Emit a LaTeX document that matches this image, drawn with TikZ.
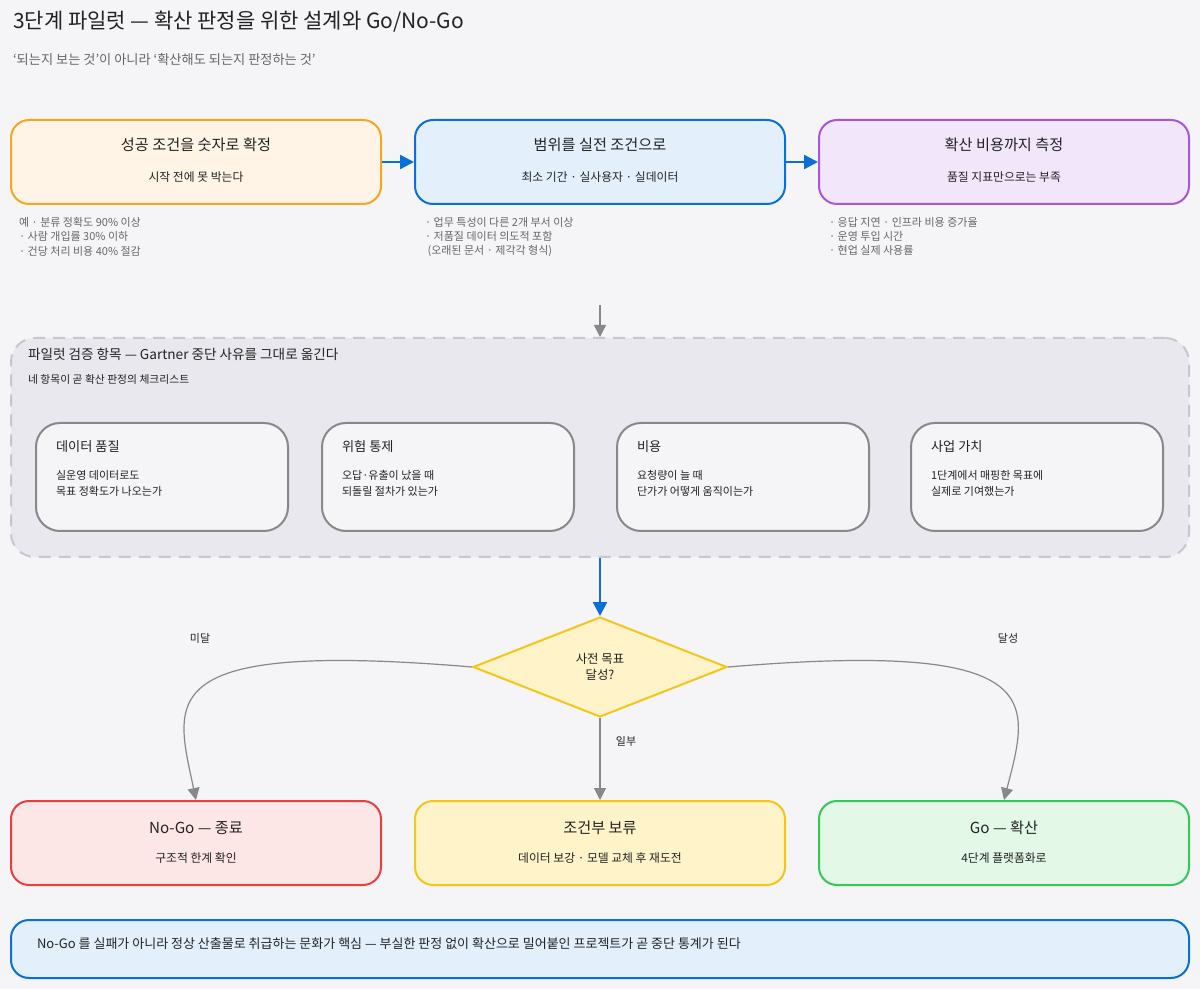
\documentclass[tikz,border=0pt]{standalone}
\usepackage{fontspec}
\setmainfont{Noto Sans CJK KR}
\usetikzlibrary{arrows.meta,shapes.geometric}
\definecolor{bg}{HTML}{F5F5F7}
\definecolor{txt}{HTML}{222222}
\definecolor{gtxt}{HTML}{666666}
\definecolor{oS}{HTML}{F5A623}\definecolor{oF}{HTML}{FFF4E5}
\definecolor{bS}{HTML}{0A6FD8}\definecolor{bF}{HTML}{E3F0FC}
\definecolor{pS}{HTML}{A855D8}\definecolor{pF}{HTML}{F1E6FA}
\definecolor{rS}{HTML}{E84040}\definecolor{rF}{HTML}{FDE6E6}
\definecolor{yS}{HTML}{F5C518}\definecolor{yF}{HTML}{FFF3C9}
\definecolor{gS}{HTML}{34C759}\definecolor{gF}{HTML}{E3F8E7}
\definecolor{cS}{HTML}{C8C8CC}\definecolor{cF}{HTML}{E9E8EE}
\definecolor{iS}{HTML}{888888}\definecolor{arr}{HTML}{888888}
\tikzset{
 box/.style={draw, line width=1pt, rounded corners=9pt, minimum width=185pt, minimum height=42pt, inner sep=0pt},
 inner/.style={draw=iS, fill=bg, line width=1pt, rounded corners=12pt, minimum width=126pt, minimum height=54pt, inner sep=0pt},
 ttl/.style={font=\fontsize{7.6pt}{9pt}\selectfont, text=txt},
 sub/.style={font=\fontsize{5.9pt}{7pt}\selectfont, text=txt},
 note/.style={font=\fontsize{5.5pt}{7.2pt}\selectfont, text=gtxt, align=left, anchor=north west},
 lbl/.style={font=\fontsize{5.5pt}{7pt}\selectfont, text=txt},
 barr/.style={draw=bS, line width=1.2pt, -{Triangle[length=7pt,width=7pt]}},
 garr/.style={draw=arr, line width=0.6pt, -{Triangle[length=6pt,width=6pt]}},
}
\begin{document}
\begin{tikzpicture}[x=0.5pt,y=-0.5pt]
\fill[bg] (0,0) rectangle (1200,989);
\useasboundingbox (0,0) rectangle (1200,989);
\node[anchor=west, font=\fontsize{10.5pt}{12pt}\selectfont, text=txt] (title) at (6,22) {3단계 파일럿 — 확산 판정을 위한 설계와 Go/No-Go};
\node[anchor=west, font=\fontsize{6.6pt}{8pt}\selectfont, text=gtxt] (subt) at (6,60) {‘되는지 보는 것’이 아니라 ‘확산해도 되는지 판정하는 것’};
% top boxes
\node[box, draw=oS, fill=oF] (A) at (196,162) {};
\node[box, draw=bS, fill=bF] (B) at (600,162) {};
\node[box, draw=pS, fill=pF] (C) at (1004,162) {};
\foreach \n/\t/\s in {A/성공 조건을 숫자로 확정/시작 전에 못 박는다, B/범위를 실전 조건으로/최소 기간 · 실사용자 · 실데이터, C/확산 비용까지 측정/품질 지표만으로는 부족}{
 \node[ttl] (\n t) at ([yshift=8.5pt]\n.center) {\t};
 \node[sub] (\n s) at ([yshift=-7.5pt]\n.center) {\s};}
\draw[barr] (A) -- (B);
\draw[barr] (B) -- (C);
\node[note] (An) at (12,210) {예 · 분류 정확도 90\% 이상\\ · 사람 개입률 30\% 이하\\ · 건당 처리 비용 40\% 절감};
\node[note] (Bn) at (418,210) {· 업무 특성이 다른 2개 부서 이상\\ · 저품질 데이터 의도적 포함\\ \ (오래된 문서 · 제각각 형식)};
\node[note] (Cn) at (822,210) {· 응답 지연 · 인프라 비용 증가율\\ · 운영 투입 시간\\ · 현업 실제 사용률};
% container
\coordinate (gtop) at (600,305);
\node[draw=cS, fill=cF, dash pattern=on 6pt off 4pt, line width=1pt, rounded corners=12pt, minimum width=589pt, minimum height=109.5pt, inner sep=0pt] (K) at (600,447.5) {};
\draw[garr] (gtop) -- (K.north);
\node[anchor=west, font=\fontsize{6.8pt}{8pt}\selectfont, text=txt] (Kt) at (21,354) {파일럿 검증 항목 — Gartner 중단 사유를 그대로 옮긴다};
\node[anchor=west, font=\fontsize{5.4pt}{7pt}\selectfont, text=txt] (Ks) at (21,379) {네 항목이 곧 확산 판정의 체크리스트};
\foreach \n/\x/\t/\a/\b in {I1/162/데이터 품질/실운영 데이터로도/목표 정확도가 나오는가, I2/448/위험 통제/오답·유출이 났을 때/되돌릴 절차가 있는가, I3/743/비용/요청량이 늘 때/단가가 어떻게 움직이는가, I4/1037/사업 가치/1단계에서 매핑한 목표에/실제로 기여했는가}{
 \node[inner] (\n) at (\x,477) {};
 \node[anchor=west, font=\fontsize{6.6pt}{8pt}\selectfont, text=txt] (\n t) at ([xshift=7pt,yshift=15pt]\n.west) {\t};
 \node[anchor=north west, align=left, font=\fontsize{5.5pt}{8pt}\selectfont, text=txt] (\n s) at ([xshift=7pt,yshift=7pt]\n.west) {\a\\\b};}
% diamond
\node[diamond, draw=yS, fill=yF, line width=1pt, minimum width=127pt, minimum height=50pt, inner sep=0pt, aspect=2.54] (D) at (600,667) {};
\node[align=center, font=\fontsize{6.2pt}{8pt}\selectfont, text=txt] (Dt) at (600,667) {사전 목표\\달성?};
\draw[barr] (K.south) -- (D.north);
% bottom boxes
\node[box, draw=rS, fill=rF] (N) at (196,843) {};
\node[box, draw=yS, fill=yF] (H) at (600,843) {};
\node[box, draw=gS, fill=gF] (G) at (1004,843) {};
\foreach \n/\t/\s in {N/No-Go — 종료/구조적 한계 확인, H/조건부 보류/데이터 보강 · 모델 교체 후 재도전, G/Go — 확산/4단계 플랫폼화로}{
 \node[ttl] (\n t) at ([yshift=7.5pt]\n.center) {\t};
 \node[sub] (\n s) at ([yshift=-7.5pt]\n.center) {\s};}
\draw[garr] (D.west) .. controls (150,640) and (175,700) .. (N.north);
\draw[garr] (D.east) .. controls (1050,640) and (1030,700) .. (G.north);
\draw[garr] (D.south) -- (H.north);
\node[lbl] (l1) at (200,638) {미달};
\node[lbl] (l2) at (1008,638) {달성};
\node[lbl] (l3) at (626,741) {일부};
% footer
\node[draw=bS, fill=bF, line width=1pt, rounded corners=9pt, minimum width=589pt, minimum height=29pt, inner sep=0pt] (F) at (600,949) {};
\node[anchor=west, font=\fontsize{6.5pt}{8pt}\selectfont, text=txt] (Ft) at (30,944) {No-Go 를 실패가 아니라 정상 산출물로 취급하는 문화가 핵심 — 부실한 판정 없이 확산으로 밀어붙인 프로젝트가 곧 중단 통계가 된다};
\end{tikzpicture}
\end{document}
